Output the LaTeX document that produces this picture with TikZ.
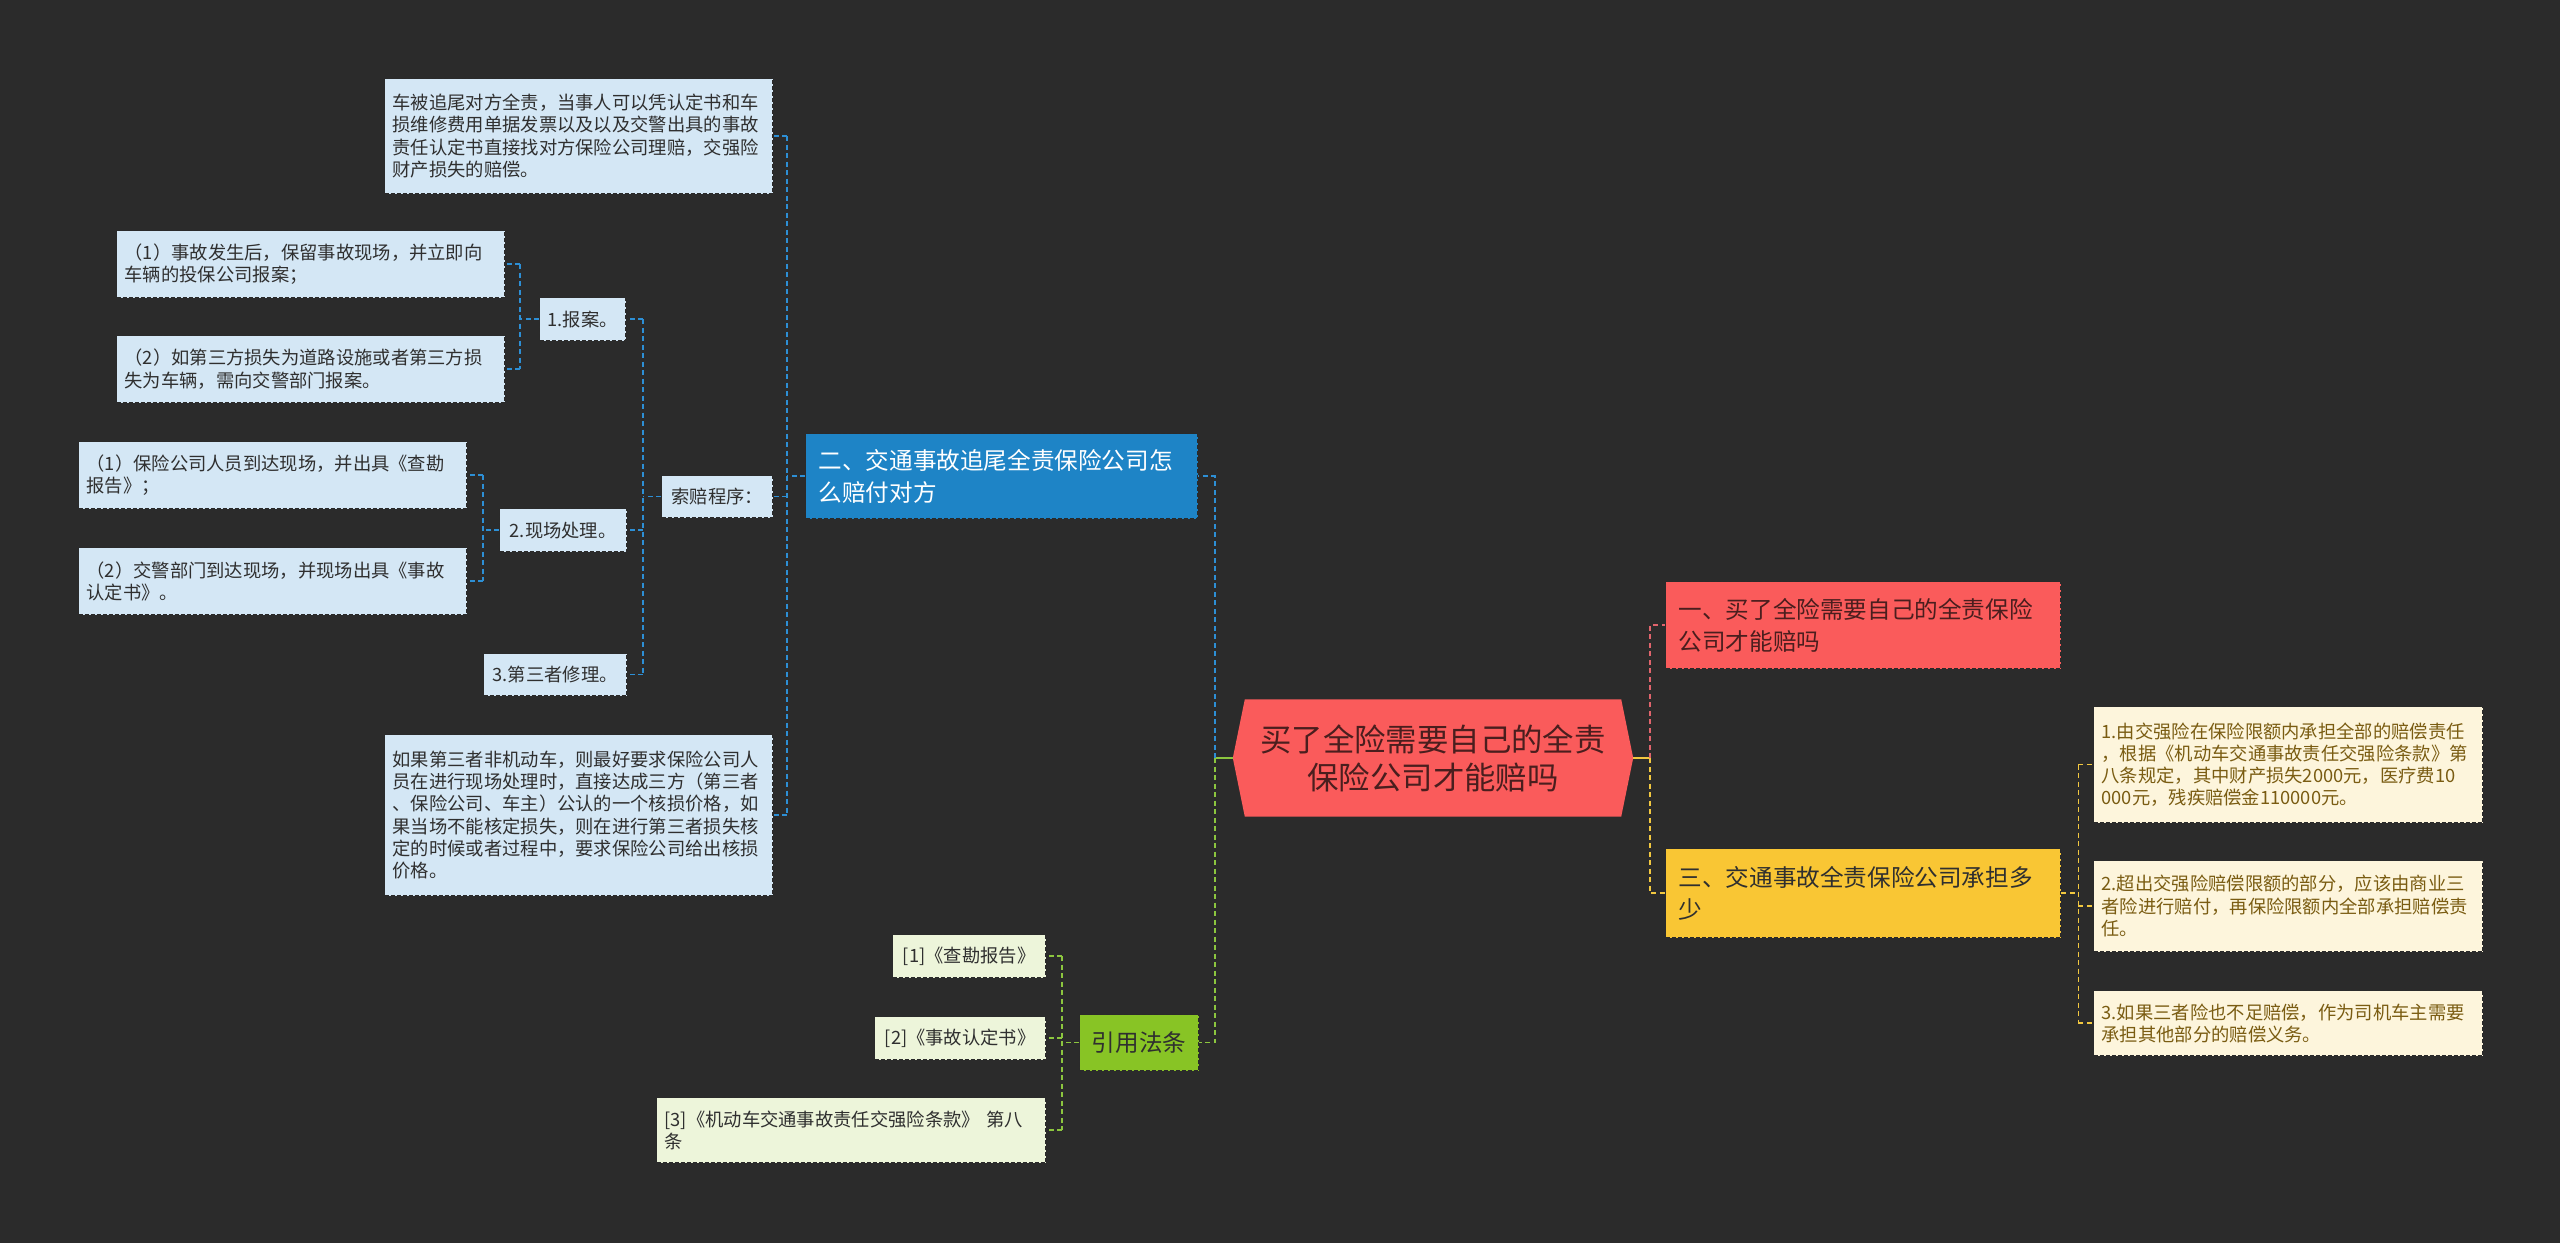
\documentclass[tikz,border=0pt]{standalone}
\usepackage{fontspec}
\setmainfont{Noto Sans CJK SC}
\usetikzlibrary{backgrounds}

\definecolor{bgdark}{HTML}{2B2B2B}
\definecolor{boxedge}{HTML}{2A2A2A}
\definecolor{rootred}{HTML}{FA5B5B}
\definecolor{roottext}{HTML}{4A1E1E}
\definecolor{secblue}{HTML}{1E84C6}
\definecolor{secyellow}{HTML}{F9C634}
\definecolor{secgreen}{HTML}{88C425}
\definecolor{leafblue}{HTML}{D4E7F5}
\definecolor{leafgreen}{HTML}{EDF5DA}
\definecolor{leafcream}{HTML}{FDF5DC}
\definecolor{leaftext}{HTML}{2F2F2F}
\definecolor{creamtext}{HTML}{7A5C12}
\definecolor{connblue}{HTML}{2D8FD5}
\definecolor{connred}{HTML}{E0646C}
\definecolor{connyellow}{HTML}{F2C840}
\definecolor{conngreen}{HTML}{8CC63F}

\newcommand\leaffont{\fontsize{18.3pt}{22.3pt}\selectfont}
\newcommand\branchfont{\fontsize{23.6pt}{31.7pt}\selectfont}
\newcommand\rootfont{\fontsize{31.4pt}{38pt}\selectfont}

\tikzset{
  box/.style={draw=boxedge, dash pattern=on 4pt off 2pt, line width=1.3pt,
    anchor=north west, align=left, inner xsep=8pt, inner ysep=3pt},
  leaf/.style={box, fill=leafblue, text=leaftext, font=\leaffont},
  refleaf/.style={box, fill=leafgreen, text=leaftext, font=\leaffont},
  payleaf/.style={box, fill=leafcream, text=creamtext, font=\leaffont},
  branch/.style={box, inner xsep=13pt, font=\branchfont},
  rootnode/.style={text=roottext, font=\rootfont, align=center, inner sep=0pt,
    minimum width=400pt, minimum height=117pt},
  conn/.style={line width=1.6pt, dash pattern=on 5pt off 3.5pt},
  blueconn/.style={conn, draw=connblue},
  redconn/.style={conn, draw=connred},
  yellowconn/.style={conn, draw=connyellow},
  greenconn/.style={conn, draw=conngreen},
}

\begin{document}
\begin{tikzpicture}[x=1pt, y=-1pt]
  \useasboundingbox (0,0) rectangle (2560,1243);

  % centre
  \node[rootnode] (root) at (1433,758) {买了全险需要自己的全责\\保险公司才能赔吗};
  \begin{scope}[on background layer]
    \fill[bgdark] (0,0) rectangle (2560,1243);
    \fill[rootred] (root.west) -- ([xshift=12pt]root.north west) -- ([xshift=-12pt]root.north east)
      -- (root.east) -- ([xshift=-12pt]root.south east) -- ([xshift=12pt]root.south west) -- cycle;
  \end{scope}

  % main branches
  \node[branch, fill=secblue, text=white, text width=366pt, minimum height=85pt] (sec2) at (805,433)
    {二、交通事故追尾全责保险公司怎\\么赔付对方};
  \node[branch, fill=rootred, text=roottext, text width=369pt, minimum height=87pt] (sec1) at (1665,581)
    {一、买了全险需要自己的全责保险\\公司才能赔吗};
  \node[branch, fill=secyellow, text=leaftext, text width=369pt, minimum height=89pt] (sec3) at (1665,848)
    {三、交通事故全责保险公司承担多\\少};
  \node[branch, fill=secgreen, text=leaftext, inner xsep=10pt, align=center,
    minimum width=119pt, minimum height=56pt] (refs) at (1079,1014) {引用法条};

  % blue side
  \node[leaf, text width=372pt, minimum height=115pt] (tleaf) at (384,78)
    {车被追尾对方全责，当事人可以凭认定书和车\\损维修费用单据发票以及以及交警出具的事故\\责任认定书直接找对方保险公司理赔，交强险\\财产损失的赔偿。};
  \node[leaf, minimum width=111pt, minimum height=42pt] (claim) at (661,475) {索赔程序：};
  \node[leaf, text width=372pt, minimum height=161pt] (nonmotor) at (384,734)
    {如果第三者非机动车，则最好要求保险公司人\\员在进行现场处理时，直接达成三方（第三者\\、保险公司、车主）公认的一个核损价格，如\\果当场不能核定损失，则在进行第三者损失核\\定的时候或者过程中，要求保险公司给出核损\\价格。};

  \node[leaf, minimum width=86pt, minimum height=43pt] (report) at (539,297) {1.报案。};
  \node[leaf, minimum width=127pt, minimum height=43pt] (scene) at (499,508) {2.现场处理。};
  \node[leaf, minimum width=143pt, minimum height=42pt] (repair) at (483,653) {3.第三者修理。};

  \node[leaf, text width=372pt, minimum height=67pt] (rl1) at (116,230)
    {（1）事故发生后，保留事故现场，并立即向\\车辆的投保公司报案；};
  \node[leaf, text width=372pt, minimum height=67pt] (rl2) at (116,335)
    {（2）如第三方损失为道路设施或者第三方损\\失为车辆，需向交警部门报案。};
  \node[leaf, text width=372pt, minimum height=67pt] (sl1) at (78,441)
    {（1）保险公司人员到达现场，并出具《查勘\\报告》；};
  \node[leaf, text width=372pt, minimum height=67pt] (sl2) at (78,547)
    {（2）交警部门到达现场，并现场出具《事故\\认定书》。};

  % green side
  \node[refleaf, minimum width=153pt, minimum height=43pt] (ref1) at (892,934) {[1]《查勘报告》};
  \node[refleaf, minimum width=171pt, minimum height=43pt] (ref2) at (874,1016) {[2]《事故认定书》};
  \node[refleaf, text width=373pt, minimum height=65pt] (ref3) at (656,1097)
    {[3]《机动车交通事故责任交强险条款》 第八\\条};

  % yellow side
  \node[payleaf, text width=373pt, minimum height=116pt] (pay1) at (2093,706)
    {1.由交强险在保险限额内承担全部的赔偿责任\\，根据《机动车交通事故责任交强险条款》第\\八条规定，其中财产损失2000元，医疗费10\\000元，残疾赔偿金110000元。};
  \node[payleaf, text width=373pt, minimum height=91pt] (pay2) at (2093,860)
    {2.超出交强险赔偿限额的部分，应该由商业三\\者险进行赔付，再保险限额内全部承担赔偿责\\任。};
  \node[payleaf, text width=373pt, minimum height=65pt] (pay3) at (2093,990)
    {3.如果三者险也不足赔偿，作为司机车主需要\\承担其他部分的赔偿义务。};

  % connectors from the centre
  \draw[conngreen, line width=2pt] (root.west) -- ++(-18,0) coordinate (jl);
  \draw[blueconn] (jl) |- (sec2.east);
  \draw[greenconn] (jl) |- (refs.east);
  \draw[connyellow, line width=2pt] (root.east) -- ++(17,0) coordinate (jr);
  \draw[redconn] (jr) |- (sec1.west);
  \draw[yellowconn] (jr) |- (sec3.west);

  % blue branch
  \draw[blueconn] (sec2.west) -- ++(-18,0) coordinate (j2);
  \draw[blueconn] (j2 |- tleaf.east) -- (j2 |- nonmotor.east);
  \foreach \n in {tleaf,claim,nonmotor}
    \draw[blueconn] (j2 |- \n.east) -- (\n.east);

  \draw[blueconn] (claim.west) -- ++(-18,0) coordinate (j3);
  \draw[blueconn] (j3 |- report.east) -- (j3 |- repair.east);
  \foreach \n in {report,scene,repair}
    \draw[blueconn] (j3 |- \n.east) -- (\n.east);

  \draw[blueconn] (report.west) -- ++(-19,0) coordinate (j4);
  \draw[blueconn] (j4 |- rl1.east) -- (j4 |- rl2.east);
  \foreach \n in {rl1,rl2}
    \draw[blueconn] (j4 |- \n.east) -- (\n.east);

  \draw[blueconn] (scene.west) -- ++(-16,0) coordinate (j5);
  \draw[blueconn] (j5 |- sl1.east) -- (j5 |- sl2.east);
  \foreach \n in {sl1,sl2}
    \draw[blueconn] (j5 |- \n.east) -- (\n.east);

  % green branch
  \draw[greenconn] (refs.west) -- ++(-17,0) coordinate (j6);
  \draw[greenconn] (j6 |- ref1.east) -- (j6 |- ref3.east);
  \foreach \n in {ref1,ref2,ref3}
    \draw[greenconn] (j6 |- \n.east) -- (\n.east);

  % yellow branch
  \draw[yellowconn] (sec3.east) -- ++(17,0) coordinate (j7);
  \draw[yellowconn] (j7 |- pay1.west) -- (j7 |- pay3.west);
  \foreach \n in {pay1,pay2,pay3}
    \draw[yellowconn] (j7 |- \n.west) -- (\n.west);
\end{tikzpicture}
\end{document}
